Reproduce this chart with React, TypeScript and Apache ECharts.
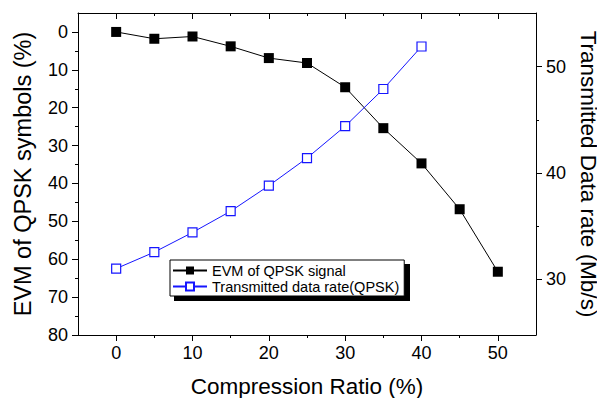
import React, { useEffect, useRef } from "react";
import * as echarts from "echarts";

const ratioX = [0, 5, 10, 15, 20, 25, 30, 35, 40, 45, 50];
const evmValues = [0, 1.8, 1.2, 3.8, 6.9, 8.2, 14.6, 25.4, 34.7, 46.8, 63.3];
const rateX = [0, 5, 10, 15, 20, 25, 30, 35, 40];
const rateValues = [31.0, 32.55, 34.4, 36.4, 38.8, 41.4, 44.4, 47.9, 51.9];

const xMajor = [0, 10, 20, 30, 40, 50];
const xMinor = [5, 15, 25, 35, 45];
const yLeftMajor = [0, 10, 20, 30, 40, 50, 60, 70, 80];
const yLeftMinor = [5, 15, 25, 35, 45, 55, 65, 75];
const yRightMajor = [30, 40, 50];
const yRightMinor = [35, 45];

const FONT = "Liberation Sans, Arial, sans-serif";

export default function App() {
  const ref = useRef<HTMLDivElement>(null);
  useEffect(() => {
    if (!ref.current) return;
    const chart = echarts.init(ref.current, null, { renderer: "svg" });
    const line = { show: true, onZero: false, lineStyle: { color: "#000", width: 1 } };
    const noLine = { show: false, onZero: false };
    const baseX = { type: "value", min: -5, max: 55, splitLine: { show: false } };
    const option: any = {
      animation: false,
      backgroundColor: "#fff",
      textStyle: { fontFamily: FONT },
      grid: { left: 78, right: 61, top: 13, bottom: 63, containLabel: false, outerBoundsMode: "none" },
      graphic: [
        {
          type: "rect",
          left: 174,
          top: 264,
          shape: { width: 236, height: 37 },
          style: { fill: "#000" },
          z: 0,
          zlevel: 0,
        },
      ],
      legend: {
        left: 170,
        top: 260,
        orient: "vertical",
        padding: [3, 5, 2, 2],
        itemGap: 1,
        itemWidth: 34,
        itemHeight: 10,
        backgroundColor: "#fff",
        borderColor: "#000",
        borderWidth: 1,
        borderRadius: 0,
        z: 10,
        textStyle: { fontSize: 14.5, color: "#000", fontFamily: FONT },
        data: ["EVM of QPSK signal", "Transmitted data rate(QPSK)"],
      },
      xAxis: [
        {
          ...baseX,
          position: "bottom",
          axisLine: line,
          axisTick: { show: true, inside: false, length: 6, customValues: xMajor, lineStyle: { color: "#000" } },
          axisLabel: { show: true, customValues: xMajor, fontSize: 18, color: "#000", margin: 9, fontFamily: FONT },
          name: "Compression Ratio (%)",
          nameLocation: "middle",
          nameGap: 40,
          nameTextStyle: { fontSize: 22.5, color: "#000", fontFamily: FONT },
        },
        {
          ...baseX,
          position: "bottom",
          axisLine: noLine,
          axisTick: { show: true, inside: false, length: 3, customValues: xMinor, lineStyle: { color: "#000" } },
          axisLabel: { show: false },
        },
        {
          ...baseX,
          position: "top",
          axisLine: line,
          axisTick: { show: true, inside: true, length: 6, customValues: xMajor, lineStyle: { color: "#000" } },
          axisLabel: { show: false },
        },
        {
          ...baseX,
          position: "top",
          axisLine: noLine,
          axisTick: { show: true, inside: true, length: 3, customValues: xMinor, lineStyle: { color: "#000" } },
          axisLabel: { show: false },
        },
      ],
      yAxis: [
        {
          type: "value",
          position: "left",
          inverse: true,
          min: -5,
          max: 80,
          splitLine: { show: false },
          axisLine: line,
          axisTick: { show: true, inside: false, length: 6, customValues: yLeftMajor, lineStyle: { color: "#000" } },
          axisLabel: { show: true, customValues: yLeftMajor, fontSize: 18, color: "#000", margin: 10, fontFamily: FONT },
          name: "EVM of QPSK symbols (%)",
          nameLocation: "middle",
          nameGap: 43,
          nameTextStyle: { fontSize: 23.5, color: "#000", fontFamily: FONT },
        },
        {
          type: "value",
          position: "right",
          min: 24.75,
          max: 55.05,
          splitLine: { show: false },
          axisLine: line,
          axisTick: { show: true, inside: false, length: 6, customValues: yRightMajor, lineStyle: { color: "#000" } },
          axisLabel: { show: true, customValues: yRightMajor, fontSize: 18, color: "#000", margin: 10, fontFamily: FONT },
          name: "Transmitted Data rate (Mb/s)",
          nameLocation: "middle",
          nameRotate: -90,
          nameGap: 35,
          nameTextStyle: { fontSize: 22.5, color: "#000", fontFamily: FONT },
        },
        {
          type: "value",
          position: "left",
          inverse: true,
          min: -5,
          max: 80,
          splitLine: { show: false },
          axisLine: noLine,
          axisTick: { show: true, inside: false, length: 3, customValues: yLeftMinor, lineStyle: { color: "#000" } },
          axisLabel: { show: false },
        },
        {
          type: "value",
          position: "right",
          min: 24.75,
          max: 55.05,
          splitLine: { show: false },
          axisLine: noLine,
          axisTick: { show: true, inside: false, length: 3, customValues: yRightMinor, lineStyle: { color: "#000" } },
          axisLabel: { show: false },
        },
      ],
      series: [
        {
          name: "EVM of QPSK signal",
          type: "line",
          xAxisIndex: 0,
          yAxisIndex: 0,
          data: ratioX.map((x, i) => [x, evmValues[i]]),
          symbol: "rect",
          symbolSize: 10,
          lineStyle: { color: "#000", width: 1 },
          itemStyle: { color: "#000", borderColor: "#000", borderWidth: 0 },
          z: 3,
        },
        {
          name: "Transmitted data rate(QPSK)",
          type: "line",
          xAxisIndex: 0,
          yAxisIndex: 1,
          data: rateX.map((x, i) => [x, rateValues[i]]),
          symbol: "rect",
          symbolSize: 9,
          lineStyle: { color: "#1515ff", width: 1 },
          itemStyle: { color: "#fff", borderColor: "#1515ff", borderWidth: 1.2 },
          z: 4,
        },
      ],
    };
    chart.setOption(option);
    return () => chart.dispose();
  }, []);
  return (
    <div
      ref={ref}
      style={{ position: "absolute", left: 0, top: 0, width: 597, height: 398 }}
    />
  );
}
